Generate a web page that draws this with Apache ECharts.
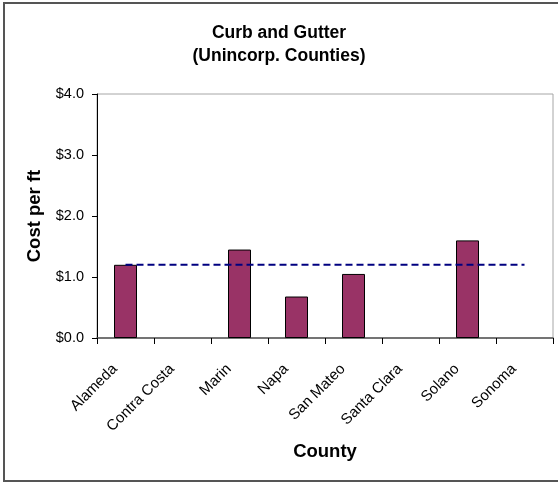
<!DOCTYPE html>
<html>
<head>
<meta charset="utf-8">
<script src="https://cdn.jsdelivr.net/npm/echarts@6/dist/echarts.min.js"></script>
<style>
  html, body { margin: 0; padding: 0; background: #fff; }
  #chart { width: 558px; height: 483px; }
</style>
</head>
<body>
<div id="chart"></div>
<script>
// Curb and gutter cost per foot, unincorporated county areas
const counties = ['Alameda', 'Contra Costa', 'Marin', 'Napa', 'San Mateo', 'Santa Clara', 'Solano', 'Sonoma'];
const costPerFt = [1.20, null, 1.45, 0.68, 1.05, null, 1.60, null];
const averageCost = [1.20, 1.20, 1.20, 1.20, 1.20, 1.20, 1.20, 1.20];
const yTicks = [0, 1, 2, 3, 4];

const font = 'Arial, "Liberation Sans", sans-serif';
const chart = echarts.init(document.getElementById('chart'), null, { renderer: 'canvas' });

chart.setOption({
  animation: false,
  backgroundColor: '#ffffff',
  textStyle: { fontFamily: font },
  title: {
    text: 'Curb and Gutter\n(Unincorp. Counties)',
    left: 'center',
    top: 17,
    textStyle: { fontFamily: font, fontSize: 17.5, fontWeight: 'bold', color: '#000', lineHeight: 23 }
  },
  graphic: [{
    type: 'rect',
    shape: { x: 4, y: 3, width: 600, height: 478 },
    style: { fill: null, stroke: '#555555', lineWidth: 2 },
    silent: true
  }],
  grid: {
    left: 97, right: 5, top: 94, bottom: 145,
    show: true, borderColor: '#a6a6a6', borderWidth: 1, backgroundColor: 'transparent'
  },
  xAxis: {
    type: 'category',
    data: counties,
    boundaryGap: true,
    name: 'County',
    nameLocation: 'middle',
    nameGap: 104,
    nameTextStyle: { fontFamily: font, fontSize: 18.5, fontWeight: 'bold', color: '#000' },
    axisLine: { lineStyle: { color: '#555555', width: 1.5 } },
    axisTick: { show: true, alignWithLabel: false, interval: 0, length: 6, lineStyle: { color: '#000' } },
    axisLabel: {
      interval: 0, rotate: 45, margin: 18, padding: [0, 15, 0, 0],
      fontSize: 15, color: '#000', fontFamily: font
    },
    splitLine: { show: false }
  },
  yAxis: {
    type: 'value',
    min: yTicks[0],
    max: yTicks[yTicks.length - 1],
    interval: 1,
    name: 'Cost per ft',
    nameLocation: 'middle',
    nameGap: 52,
    nameTextStyle: { fontFamily: font, fontSize: 18.5, fontWeight: 'bold', color: '#000' },
    axisLine: { show: true, lineStyle: { color: '#000', width: 1 } },
    axisTick: { show: true, length: 5, lineStyle: { color: '#000' } },
    axisLabel: {
      margin: 13, fontSize: 14.5, color: '#000', fontFamily: font,
      formatter: v => '$' + v.toFixed(1)
    },
    splitLine: { show: false }
  },
  series: [
    {
      type: 'bar',
      data: costPerFt.map(v => (v === null ? '-' : v)),
      barWidth: 23,
      itemStyle: { color: '#993366', borderColor: '#000', borderWidth: 1 },
      z: 2
    },
    {
      type: 'line',
      data: averageCost,
      symbol: 'none',
      lineStyle: { color: '#000080', width: 2, type: [7, 4] },
      z: 3
    }
  ]
});
</script>
</body>
</html>
